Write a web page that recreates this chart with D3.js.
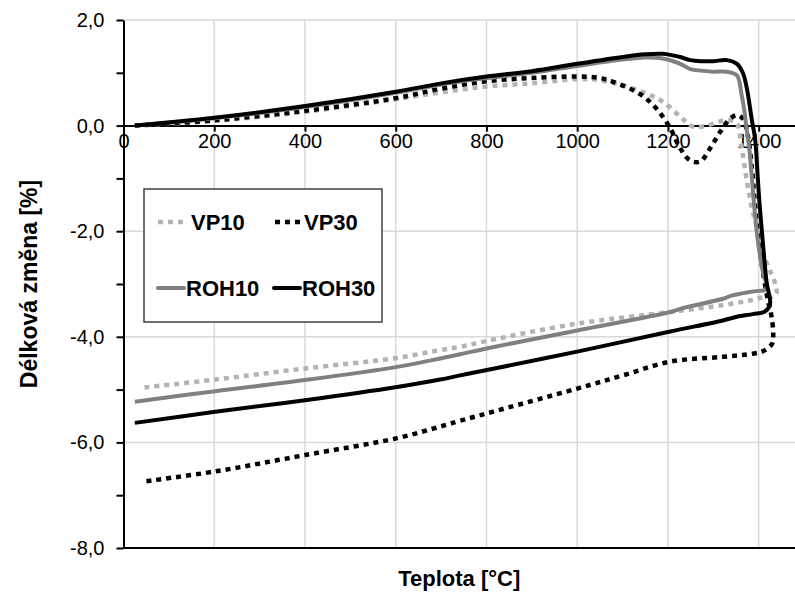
<!DOCTYPE html>
<html>
<head>
<meta charset="utf-8">
<script src="https://cdn.jsdelivr.net/npm/d3@7"></script>
<style>
  body { margin: 0; background: #fff; }
  text { font-family: "Liberation Sans", Arial, sans-serif; }
</style>
</head>
<body>
<div class="chart"></div>
<script>
// dilatometric curves: [temperature °C, length change %]
var vp10 = [[25,0],[200,0.09],[400,0.26],[600,0.5],[700,0.63],[800,0.74],[900,0.8],[1000,0.88],[1050,0.86],
  [1101,0.76],[1154,0.6],[1189,0.45],[1227,0.17],[1255,-0.02],[1286,0],[1315,0.08],[1337,0.1],[1352,0.04],
  [1363,-0.44],[1374,-1.06],[1385,-1.57],[1395,-1.9],[1408,-2.35],[1422,-2.7],[1432,-2.88],[1438,-3.05],[1439,-3.18],
  [1430,-3.24],[1405,-3.26],[1387,-3.3],[1321,-3.4],[1205,-3.53],[1000,-3.75],[800,-4.08],[742,-4.19],
  [698,-4.25],[603,-4.4],[400,-4.6],[202,-4.81],[45,-4.96]];

var vp30 = [[25,0],[200,0.1],[400,0.28],[600,0.52],[700,0.7],[800,0.84],[900,0.9],[1000,0.93],[1050,0.9],
  [1079,0.83],[1138,0.6],[1175,0.32],[1205,-0.05],[1227,-0.43],[1249,-0.66],[1271,-0.68],[1293,-0.43],
  [1315,-0.12],[1337,0.13],[1352,0.2],[1365,0.13],[1376,-0.19],[1385,-0.8],[1392,-1.5],[1400,-2.2],
  [1410,-2.8],[1420,-3.3],[1428,-3.6],[1432,-3.95],[1429,-4.14],[1410,-4.27],[1387,-4.32],[1321,-4.38],
  [1205,-4.47],[1101,-4.73],[1000,-4.98],[801,-5.45],[742,-5.59],[698,-5.7],[603,-5.92],[400,-6.24],
  [202,-6.55],[45,-6.74]];

var roh10 = [[25,0],[200,0.14],[400,0.35],[600,0.62],[700,0.78],[800,0.9],[900,1.0],[1000,1.13],[1100,1.25],
  [1150,1.29],[1189,1.27],[1227,1.17],[1249,1.07],[1275,1.04],[1299,1.02],[1330,1.02],[1352,0.95],
  [1362,0.6],[1368,0.3],[1374,-0.1],[1380,-0.5],[1385,-1.0],[1392,-1.7],[1400,-2.3],[1410,-2.8],
  [1418,-3.05],[1412,-3.12],[1400,-3.13],[1374,-3.16],[1340,-3.22],[1321,-3.28],[1227,-3.47],[1205,-3.53],
  [1000,-3.88],[800,-4.22],[742,-4.33],[698,-4.41],[603,-4.57],[400,-4.82],[202,-5.03],[25,-5.23]];

var roh30 = [[25,0],[200,0.15],[400,0.37],[600,0.64],[700,0.8],[800,0.93],[900,1.03],[1000,1.17],[1100,1.3],
  [1150,1.35],[1189,1.36],[1210,1.33],[1227,1.3],[1249,1.24],[1275,1.22],[1299,1.22],[1330,1.24],[1352,1.17],
  [1365,1.0],[1374,0.7],[1385,0.1],[1392,-0.25],[1398,-1.0],[1402,-1.5],[1407,-2.0],[1412,-2.5],
  [1418,-3.0],[1425,-3.3],[1424,-3.42],[1412,-3.53],[1387,-3.57],[1352,-3.62],[1321,-3.69],[1205,-3.9],
  [1000,-4.28],[801,-4.63],[742,-4.73],[698,-4.81],[603,-4.95],[400,-5.2],[202,-5.42],[25,-5.63]];

var seriesNames = ["VP10", "VP30", "ROH10", "ROH30"];
var xTicks = [0, 200, 400, 600, 800, 1000, 1200, 1400];
var yTicks = [-8, -7, -6, -5, -4, -3, -2, -1, 0, 1, 2];

var svgWidth = 795;
var svgHeight = 595;
var margin = { top: 20, right: 0, bottom: 47, left: 123.5 };
var width = svgWidth - margin.left - margin.right;
var height = svgHeight - margin.top - margin.bottom;

var svg = d3.select(".chart").append("svg")
  .attr("width", svgWidth)
  .attr("height", svgHeight);

var chartGroup = svg.append("g")
  .attr("transform", `translate(${margin.left}, ${margin.top})`);

var xScale = d3.scaleLinear().domain([0, 1480]).range([0, width]);
var yScale = d3.scaleLinear().domain([-8, 2]).range([height, 0]);

// gridlines
chartGroup.selectAll("line.vgrid")
  .data(xTicks.filter(d => d > 0))
  .enter().append("line")
  .attr("x1", d => xScale(d)).attr("x2", d => xScale(d))
  .attr("y1", 0).attr("y2", height)
  .attr("stroke", "#d9d9d9").attr("stroke-width", 1.5);

chartGroup.selectAll("line.hgrid")
  .data([-6, -4, -2, 2])
  .enter().append("line")
  .attr("x1", 0).attr("x2", width)
  .attr("y1", d => yScale(d)).attr("y2", d => yScale(d))
  .attr("stroke", "#d9d9d9").attr("stroke-width", 1.5);

// bottom border line
chartGroup.append("line")
  .attr("x1", 0).attr("x2", width)
  .attr("y1", height).attr("y2", height)
  .attr("stroke", "#000").attr("stroke-width", 2);

var fmt = d => d.toFixed(1).replace(".", ",");

// y axis
var leftAxis = d3.axisLeft(yScale)
  .tickValues(yTicks)
  .tickSizeInner(7).tickSizeOuter(0).tickPadding(12)
  .tickFormat(d => d % 2 === 0 ? fmt(d) : "");
var yAxis = chartGroup.append("g").call(leftAxis);

// x axis through zero
var bottomAxis = d3.axisBottom(xScale)
  .tickValues(xTicks)
  .tickSizeInner(6).tickSizeOuter(0).tickPadding(2)
  .tickFormat(d3.format("d"));
var xAxis = chartGroup.append("g")
  .attr("transform", `translate(0, ${yScale(0)})`)
  .call(bottomAxis);

[xAxis, yAxis].forEach(function(ax) {
  ax.select(".domain").attr("stroke", "#000").attr("stroke-width", 2);
  ax.selectAll(".tick line").attr("stroke", "#000").attr("stroke-width", 2);
  ax.selectAll("text").attr("fill", "#000").style("font-size", "20px")
    .style("font-family", "'Liberation Sans', Arial, sans-serif");
});

// curves
var styles = {
  VP10: { color: "#b3b3b3", dash: "5,5", data: vp10 },
  VP30: { color: "#000000", dash: "5,5", data: vp30 },
  ROH10: { color: "#808080", dash: null, data: roh10 },
  ROH30: { color: "#000000", dash: null, data: roh30 }
};

var line = d3.line()
  .x(d => xScale(d[0]))
  .y(d => yScale(d[1]))
  .curve(d3.curveCatmullRom.alpha(0.5));

seriesNames.forEach(function(name) {
  var s = styles[name];
  chartGroup.append("path")
    .datum(s.data)
    .attr("d", line)
    .attr("fill", "none")
    .attr("stroke", s.color)
    .attr("stroke-width", s.dash ? 4.5 : 4)
    .attr("stroke-dasharray", s.dash)
    .attr("stroke-linejoin", "round");
});

// legend
var legend = svg.append("g");
legend.append("rect")
  .attr("x", 144).attr("y", 189)
  .attr("width", 238).attr("height", 133)
  .attr("fill", "#fff")
  .attr("stroke", "#404040").attr("stroke-width", 1.5);

var legendPos = [
  { x: 158, y: 222, tx: 191 },
  { x: 275, y: 222, tx: 304 },
  { x: 158, y: 288, tx: 186 },
  { x: 274, y: 288, tx: 302 }
];

seriesNames.forEach(function(name, i) {
  var s = styles[name];
  var p = legendPos[i];
  legend.append("line")
    .attr("x1", p.x).attr("x2", p.x + 26)
    .attr("y1", p.y).attr("y2", p.y)
    .attr("stroke", s.color)
    .attr("stroke-width", s.dash ? 4.5 : 4)
    .attr("stroke-dasharray", s.dash)
    .attr("stroke-linecap", s.dash ? "butt" : "round");
  legend.append("text")
    .attr("x", p.tx).attr("y", p.y + 8)
    .style("font-size", "22px").style("font-weight", "bold")
    .text(name);
});

// axis titles
svg.append("text")
  .attr("x", margin.left + width / 2)
  .attr("y", 586)
  .attr("text-anchor", "middle")
  .style("font-size", "22px").style("font-weight", "bold")
  .text("Teplota [°C]");

svg.append("text")
  .attr("transform", `translate(37, ${margin.top + height / 2}) rotate(-90)`)
  .attr("text-anchor", "middle")
  .style("font-size", "23px").style("font-weight", "bold")
  .text("Délková změna [%]");
</script>
</body>
</html>
